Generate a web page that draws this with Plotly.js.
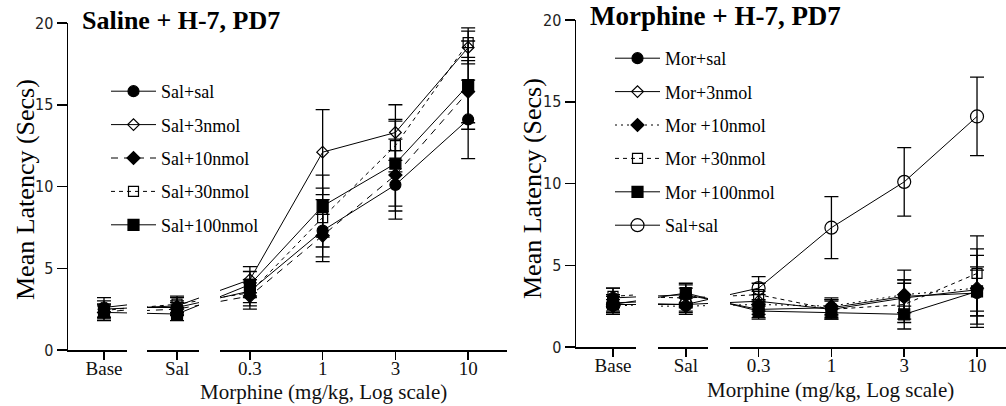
<!DOCTYPE html>
<html>
<head>
<meta charset="utf-8">
<script src="https://cdn.plot.ly/plotly-3.0.1.min.js"></script>
<style>html,body{margin:0;padding:0;background:#fff;}#chart{width:1006px;height:406px;}</style>
</head>
<body>
<div id="chart"></div>
<script>
// ---------- DATA ----------
const doseLabels = ['Base', 'Sal', '0.3', '1', '3', '10'];
const dosePos = [0, 1, 2, 3, 4, 5];

// Saline + H-7 panel
const salSal     = [2.6, 2.6, 3.6, 7.3, 10.1, 14.1];
const salSalErr  = [0.6, 0.4, 0.7, 1.9, 2.1, 2.4];
const sal3       = [2.5, 2.7, 4.3, 12.1, 13.3, 18.5];
const sal3Err    = [0.5, 0.5, 0.8, 2.6, 1.7, 1.0];
const sal10      = [2.3, 2.5, 3.3, 7.0, 10.7, 15.8];
const sal10Err   = [0.4, 0.4, 0.8, 1.3, 2.2, 1.9];
const sal30      = [2.4, 2.8, 3.5, 8.1, 12.5, 18.8];
const sal30Err   = [0.4, 0.5, 0.8, 1.8, 1.6, 0.9];
const sal100     = [2.3, 2.2, 4.0, 8.8, 11.4, 16.2];
const sal100Err  = [0.5, 0.4, 0.8, 1.9, 2.6, 2.7];

// Morphine + H-7 panel
const morSal     = [3.0, 3.2, 2.3, 2.4, 3.1, 3.3];
const morSalErr  = [0.6, 0.6, 0.5, 0.5, 1.0, 1.4];
const mor3       = [2.7, 2.6, 2.8, 2.3, 3.0, 3.5];
const mor3Err    = [0.5, 0.5, 0.6, 0.6, 0.9, 2.1];
const mor10      = [2.5, 2.5, 2.6, 2.5, 3.2, 3.6];
const mor10Err   = [0.4, 0.5, 0.6, 0.5, 1.5, 2.4];
const mor30      = [3.1, 3.0, 3.2, 2.3, 2.6, 4.5];
const mor30Err   = [0.5, 0.6, 0.7, 0.5, 1.5, 2.3];
const mor100     = [2.6, 3.3, 2.2, 2.1, 2.0, 3.4];
const mor100Err  = [0.5, 0.6, 0.5, 0.4, 0.5, 1.5];

// ---------- STYLES ----------
const W = 1006, H = 406;
const px = v => v / W;
const py = v => 1 - v / H;

const leftSeries = [
  {name: 'Sal+sal',    y: salSal, e: salSalErr, symbol: 'circle',       size: 11, dash: 'solid'},
  {name: 'Sal+3nmol',  y: sal3,   e: sal3Err,   symbol: 'diamond-open', size: 9,  dash: 'solid'},
  {name: 'Sal+10nmol', y: sal10,  e: sal10Err,  symbol: 'diamond',      size: 10, dash: '7px,6px'},
  {name: 'Sal+30nmol', y: sal30,  e: sal30Err,  symbol: 'square-open',  size: 10, dash: '4px,4px'},
  {name: 'Sal+100nmol',y: sal100, e: sal100Err, symbol: 'square',       size: 11, dash: 'solid'}
];
const rightSeries = [
  {name: 'Mor+sal',     y: morSal, e: morSalErr, symbol: 'circle',       size: 11, dash: 'solid'},
  {name: 'Mor+3nmol',   y: mor3,   e: mor3Err,   symbol: 'diamond-open', size: 9,  dash: 'solid'},
  {name: 'Mor +10nmol', y: mor10,  e: mor10Err,  symbol: 'diamond',      size: 10, dash: '2px,4px'},
  {name: 'Mor +30nmol', y: mor30,  e: mor30Err,  symbol: 'square-open',  size: 10, dash: '4px,4px'},
  {name: 'Mor +100nmol',y: mor100, e: mor100Err, symbol: 'square',       size: 11, dash: 'solid'},
  {name: 'Sal+sal',     y: salSal, e: salSalErr, symbol: 'circle-open',  size: 13, dash: 'solid'}
];

const traces = [];
function addPanel(series, xaxes, yaxis, legendId, groupPrefix) {
  series.forEach((s, i) => {
    xaxes.forEach((xa, k) => {
      traces.push({
        type: 'scatter', mode: 'lines+markers',
        x: dosePos, y: s.y,
        xaxis: xa, yaxis: yaxis,
        name: s.name,
        legend: legendId,
        legendgroup: groupPrefix + i,
        showlegend: k === 1,
        line: {color: '#000', width: 1, dash: s.dash},
        marker: {symbol: s.symbol, size: s.size, color: '#000',
                 line: {color: '#000', width: 1.2}},
        error_y: {type: 'data', array: s.e, visible: true, color: '#000',
                  thickness: 1.3, width: 7},
        cliponaxis: true,
        hoverinfo: 'skip'
      });
    });
  });
}
addPanel(leftSeries, ['x', 'x2', 'x3'], 'y', 'legend', 'L');
addPanel(rightSeries, ['x4', 'x5', 'x6'], 'y2', 'legend2', 'R');

const tickFontX = {family: 'Liberation Serif, serif', size: 19, color: '#111'};
const tickFontY = {family: 'DejaVu Sans Condensed, DejaVu Sans, sans-serif', size: 16, color: '#222'};

function xAxis(p0, p1, r0, r1, anchor) {
  return {
    domain: [px(p0), px(p1)], range: [r0, r1], anchor: anchor,
    showline: true, linecolor: '#000', linewidth: 1.5,
    ticks: 'outside', ticklen: 8, tickwidth: 1.5, tickcolor: '#000',
    tickvals: dosePos, ticktext: doseLabels, tickfont: tickFontX,
    ticklabelstandoff: -7,
    showgrid: false, zeroline: false, fixedrange: true
  };
}
function yAxis(pTop, pBot, anchor) {
  return {
    domain: [1 - pBot / H, 1 - pTop / H], range: [0, 20], anchor: anchor,
    showline: true, linecolor: '#000', linewidth: 1.5,
    ticks: 'outside', ticklen: 10, tickwidth: 1.5, tickcolor: '#000',
    tickvals: [0, 5, 10, 15, 20], tickfont: tickFontY,
    showgrid: false, zeroline: false, fixedrange: true
  };
}

const legendFont = {family: 'Liberation Serif, serif', size: 18, color: '#000'};

const layout = {
  width: W, height: H,
  margin: {l: 0, r: 0, t: 0, b: 0},
  paper_bgcolor: '#fff', plot_bgcolor: 'rgba(0,0,0,0)',
  showlegend: true,
  xaxis:  xAxis(68, 127, -0.493, 0.315, 'y'),
  xaxis2: xAxis(147, 199, 0.589, 1.301, 'y'),
  xaxis3: xAxis(220, 507, 1.589, 5.534, 'y'),
  xaxis4: xAxis(576, 636, -0.508, 0.316, 'y2'),
  xaxis5: xAxis(658, 708, 0.618, 1.305, 'y2'),
  xaxis6: xAxis(730, 1006, 1.607, 5.398, 'y2'),
  yaxis:  yAxis(23, 350, 'x'),
  yaxis2: yAxis(20, 347, 'x4'),
  legend: {
    x: px(106), y: py(73), xanchor: 'left', yanchor: 'top',
    bgcolor: 'rgba(0,0,0,0)', borderwidth: 0, font: legendFont,
    itemwidth: 45, tracegroupgap: 7, traceorder: 'grouped',
    itemclick: false, itemdoubleclick: false
  },
  legend2: {
    x: px(610), y: py(40), xanchor: 'left', yanchor: 'top',
    bgcolor: 'rgba(0,0,0,0)', borderwidth: 0, font: legendFont,
    itemwidth: 45, tracegroupgap: 7, traceorder: 'grouped',
    itemclick: false, itemdoubleclick: false
  },
  annotations: [
    {text: '<b>Saline + H-7, PD7</b>', xref: 'paper', yref: 'paper',
     x: px(80), y: py(20), xanchor: 'left', yanchor: 'middle', showarrow: false,
     font: {family: 'Liberation Serif, serif', size: 26, color: '#000'}},
    {text: '<b>Morphine + H-7, PD7</b>', xref: 'paper', yref: 'paper',
     x: px(588), y: py(16), xanchor: 'left', yanchor: 'middle', showarrow: false,
     font: {family: 'Liberation Serif, serif', size: 27, color: '#000'}},
    {text: 'Mean Latency (Secs)', xref: 'paper', yref: 'paper', textangle: -90,
     x: px(25), y: py(190), xanchor: 'center', yanchor: 'middle', showarrow: false,
     font: {family: 'Liberation Serif, serif', size: 26, color: '#000'}},
    {text: 'Mean Latency (Secs)', xref: 'paper', yref: 'paper', textangle: -90,
     x: px(533), y: py(189), xanchor: 'center', yanchor: 'middle', showarrow: false,
     font: {family: 'Liberation Serif, serif', size: 26, color: '#000'}},
    {text: 'Morphine (mg/kg, Log scale)', xref: 'paper', yref: 'paper',
     x: px(323), y: py(392), xanchor: 'center', yanchor: 'middle', showarrow: false,
     font: {family: 'Liberation Serif, serif', size: 21, color: '#111'}},
    {text: 'Morphine (mg/kg, Log scale)', xref: 'paper', yref: 'paper',
     x: px(830), y: py(390), xanchor: 'center', yanchor: 'middle', showarrow: false,
     font: {family: 'Liberation Serif, serif', size: 21, color: '#111'}}
  ]
};

Plotly.newPlot('chart', traces, layout, {staticPlot: true, displayModeBar: false});
</script>
</body>
</html>
